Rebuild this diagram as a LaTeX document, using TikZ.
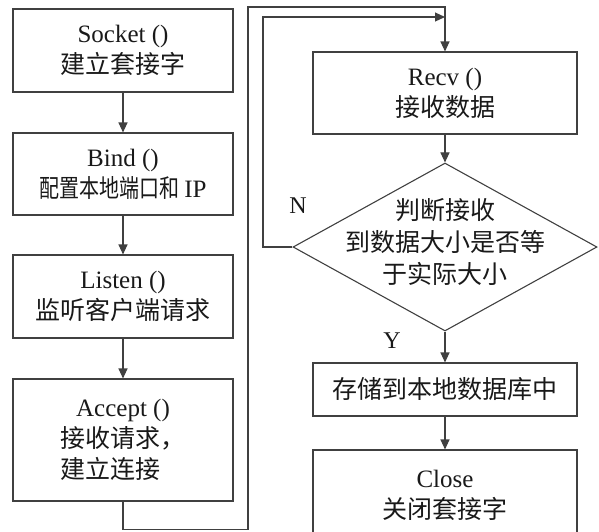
\documentclass[tikz,border=0pt]{standalone}
\usepackage{fontspec}
\usepackage{graphicx}
\setmainfont{Liberation Serif}
\newfontfamily\cjk{Noto Sans CJK SC}
\usetikzlibrary{shapes.geometric,arrows.meta}
\begin{document}
\begin{tikzpicture}[x=1pt,y=-1pt,
  line/.style={draw=black!75, line width=1.1pt},
  arr/.style={line, -{Triangle[length=10pt,width=9pt]}},
  box/.style={line, rectangle, align=center, inner sep=0pt, text=black!90,
    font=\fontsize{25}{31}\selectfont},
  lbox/.style={box, minimum width=220pt},
  rbox/.style={box, minimum width=264pt},
  lbl/.style={text=black!90, font=\fontsize{24}{28}\selectfont}]
\useasboundingbox (0,0) rectangle (599,531);
\clip (0,0) rectangle (599,531);
% left column
\node[lbox, minimum height=83pt] (socket) at (123,50.5) {Socket ()\\{\cjk 建立套接字}};
\node[lbox, minimum height=82pt] (bind) at (123,174) {Bind ()\\\scalebox{0.8}[1]{\cjk 配置本地端口和}\hspace{5pt}IP};
\node[lbox, minimum height=83pt] (listen) at (123,296.5) {Listen ()\\{\cjk 监听客户端请求}};
\node[lbox, minimum height=122pt] (accept) at (123,440) {Accept ()\\{\cjk 接收请求，}\\{\cjk 建立连接\hphantom{，}}};
% right column
\node[rbox, minimum height=82pt] (recv) at (445,93) {Recv ()\\{\cjk 接收数据}};
\node[line, diamond, aspect=1.81, minimum width=304pt, minimum height=168pt, inner sep=0pt] (dec) at (445,247) {};
\node[align=center, inner sep=0pt, text=black!90, font=\fontsize{25}{32}\selectfont] (dectext) at (445,242)
  {{\cjk 判断接收}\\{\cjk 到数据大小是否等}\\{\cjk 于实际大小}};
\node[rbox, minimum height=53pt] (store) at (445,389.5) {{\cjk 存储到本地数据库中}};
\node[rbox, minimum height=90pt] (close) at (445,495) {Close\\{\cjk 关闭套接字}};
% labels
\node[lbl] (nlab) at (298,206) {N};
\node[lbl] (ylab) at (392,341) {Y};
% connectors
\draw[arr] (socket) -- (bind);
\draw[arr] (bind) -- (listen);
\draw[arr] (listen) -- (accept);
\draw[arr] (recv) -- (dec);
\draw[arr] (dec) -- (store);
\draw[arr] (store) -- (close.north);
\coordinate (c1) at (123,529.5);
\coordinate (c2) at (248,529.5);
\coordinate (c3) at (248,7);
\coordinate (c4) at (445,7);
\draw[arr] (accept.south) -- (c1) -- (c2) -- (c3) -- (c4) -- (recv.north);
\coordinate (n1) at (263,247);
\coordinate (n2) at (263,17);
\coordinate (n3) at (445,17);
\draw[arr] (dec.west) -- (n1) -- (n2) -- (n3);
\end{tikzpicture}
\end{document}
